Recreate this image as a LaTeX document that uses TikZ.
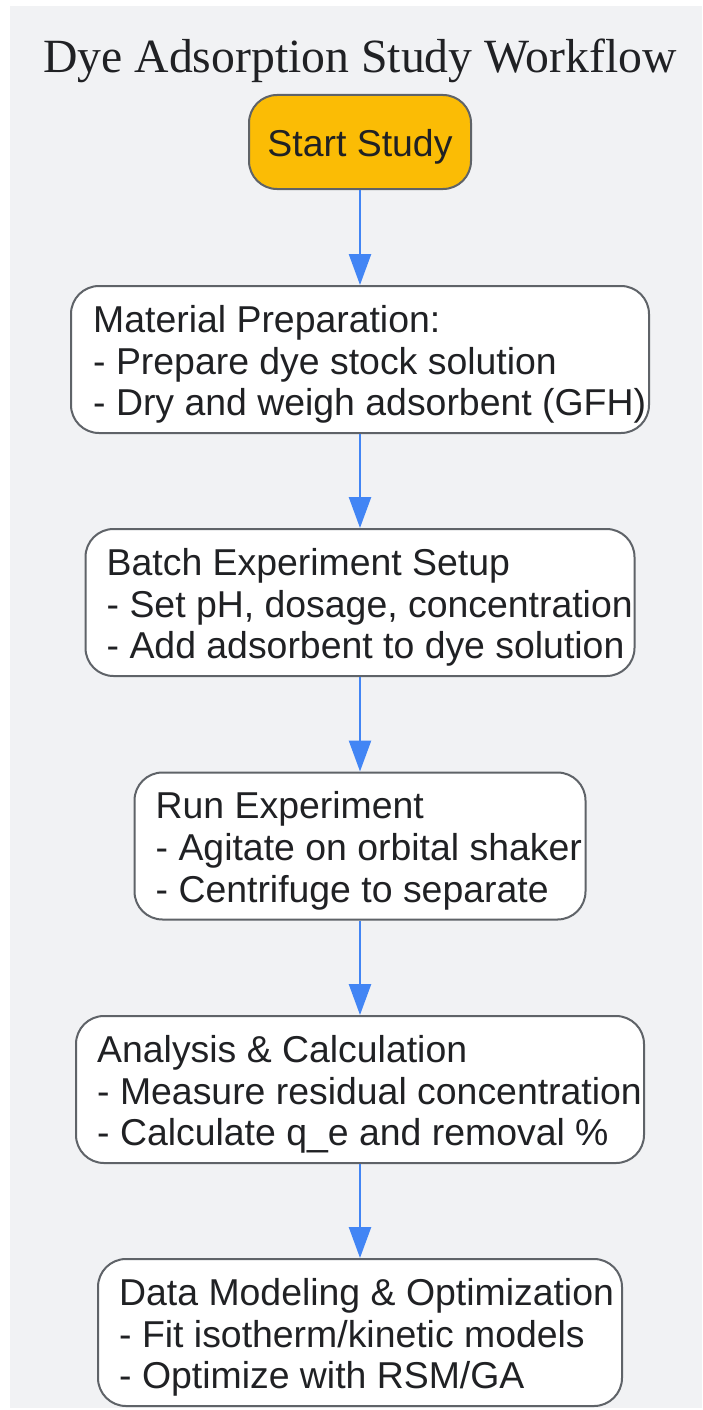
\documentclass[tikz,border=0pt]{standalone}
\usepackage{fontspec}
\setmainfont{Liberation Sans}
\newfontfamily\titlefont{Liberation Serif}
\usetikzlibrary{arrows.meta}
\definecolor{bgc}{HTML}{F1F2F4}
\definecolor{yel}{HTML}{FBBC05}
\definecolor{bord}{HTML}{5F6368}
\definecolor{arrc}{HTML}{4285F4}
\definecolor{txt}{HTML}{202124}
\tikzset{
  box/.style={draw=bord, line width=2pt, fill=white, rounded corners=28pt, minimum height=147pt, inner sep=0pt},
  lbl/.style={anchor=west, align=left, font=\fontsize{37.4}{41.7}\selectfont, text=txt, inner sep=0pt, yshift=-5pt},
  arr/.style={draw=arrc, line width=2.5pt, -{Triangle[width=22pt,length=31pt]}}
}
\begin{document}
\begin{tikzpicture}[x=1pt,y=-1pt]
\useasboundingbox (0,0) rectangle (702,1410);
\fill[bgc] (10,6) rectangle (702,1408);
\node[font=\titlefont\fontsize{47.7}{56}\selectfont, text=txt, anchor=base, inner sep=0pt] (title) at (360,72.7) {Dye Adsorption Study Workflow};

\node[box, fill=yel, minimum width=222pt, minimum height=94pt] (s) at (360,142) {};
\node[font=\fontsize{37.4}{44}\selectfont, text=txt, anchor=base, inner sep=0pt] (st) at (360,157) {Start Study};

\node[box, minimum width=578pt] (b2) at (360,359.5) {};
\node[lbl] (t2) at ([xshift=23pt]b2.west) {Material Preparation:\\- Prepare dye stock solution\\- Dry and weigh adsorbent (GFH)};

\node[box, minimum width=549pt] (b3) at (360,602.5) {};
\node[lbl] (t3) at ([xshift=22pt]b3.west) {Batch Experiment Setup\\- Set pH, dosage, concentration\\- Add adsorbent to dye solution};

\node[box, minimum width=451pt] (b4) at (360,846) {};
\node[lbl] (t4) at ([xshift=22pt]b4.west) {Run Experiment\\- Agitate on orbital shaker\\- Centrifuge to separate};

\node[box, minimum width=568pt] (b5) at (360,1089.5) {};
\node[lbl] (t5) at ([xshift=22pt]b5.west) {Analysis \& Calculation\\- Measure residual concentration\\- Calculate q\_e and removal \%};

\node[box, minimum width=524pt] (b6) at (360,1332.5) {};
\node[lbl] (t6) at ([xshift=22pt]b6.west) {Data Modeling \& Optimization\\- Fit isotherm/kinetic models\\- Optimize with RSM/GA};

\draw[arr] (s.south) -- (b2.north);
\draw[arr] (b2.south) -- (b3.north);
\draw[arr] (b3.south) -- (b4.north);
\draw[arr] (b4.south) -- (b5.north);
\draw[arr] (b5.south) -- (b6.north);
\end{tikzpicture}
\end{document}
